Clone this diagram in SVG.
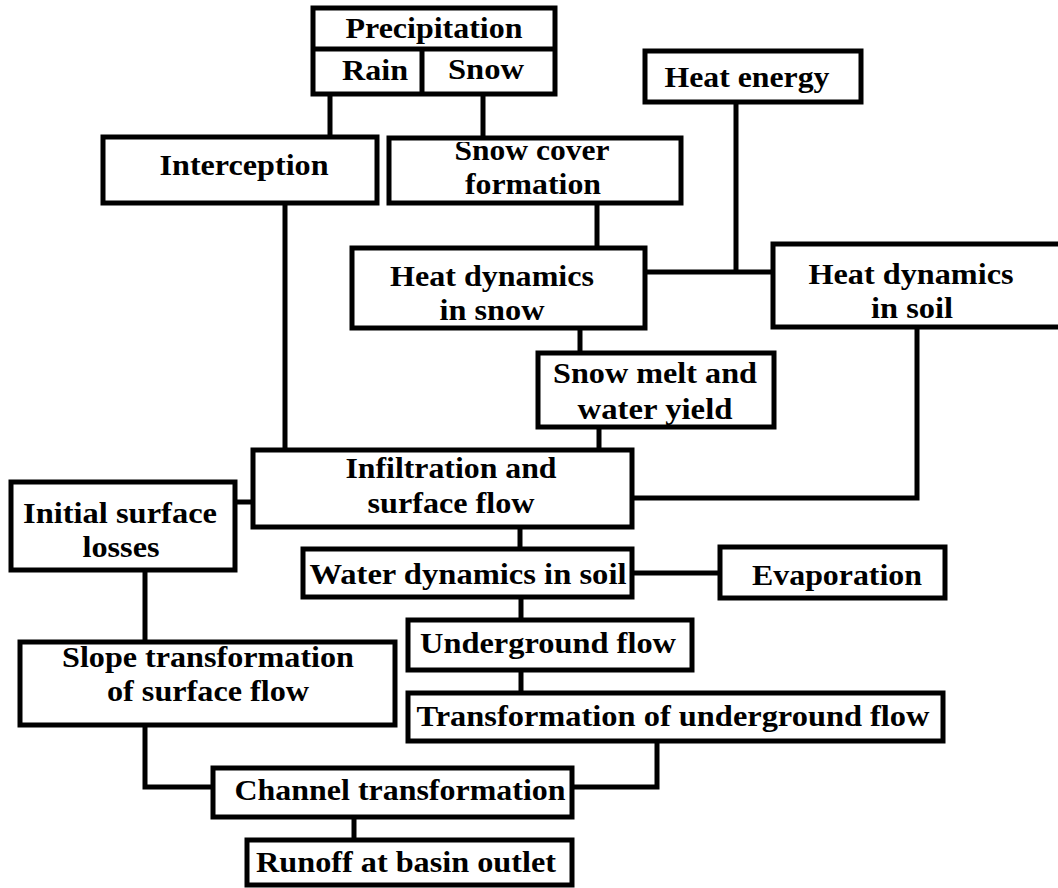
<svg xmlns="http://www.w3.org/2000/svg" width="1058" height="888" viewBox="0 0 1058 888">
<defs>
<clipPath id="scclip"><rect x="391" y="142" width="288" height="60"/></clipPath>
</defs>
<style>
.b{fill:#fff;stroke:#000;stroke-width:5}
.c{fill:none;stroke:#000;stroke-width:5}
text{font-family:"Liberation Serif","Times New Roman",serif;font-weight:bold;font-size:30px;fill:#000;text-anchor:middle}
</style>
<rect width="1058" height="888" fill="#fff"/>
<g id="connectors">
<path class="c" d="M330 94V137M483 94V137"/>
<path class="c" d="M285 203V450"/>
<path class="c" d="M597 203V248"/>
<path class="c" d="M736 102V272M645 272H773"/>
<path class="c" d="M580 328V353"/>
<path class="c" d="M599 427V450"/>
<path class="c" d="M917 327V498H632"/>
<path class="c" d="M235 502H253"/>
<path class="c" d="M520 527V549"/>
<path class="c" d="M632 573H720"/>
<path class="c" d="M521 597V620"/>
<path class="c" d="M521 670V693"/>
<path class="c" d="M657 741V787H572"/>
<path class="c" d="M145 570V642"/>
<path class="c" d="M145 725V787H213"/>
<path class="c" d="M354 817V840"/>
</g>
<g id="precipitation">
<rect class="b" x="313" y="8" width="242" height="86"/>
<path class="c" d="M313 49H555M422 49V94"/>
<text x="434" y="38" textLength="177" lengthAdjust="spacingAndGlyphs">Precipitation</text>
<text x="375" y="80" textLength="66" lengthAdjust="spacingAndGlyphs">Rain</text>
<text x="486" y="79" textLength="76" lengthAdjust="spacingAndGlyphs">Snow</text>
</g>
<g id="interception">
<rect class="b" x="103" y="137" width="274" height="66"/>
<text x="244" y="175" textLength="169" lengthAdjust="spacingAndGlyphs">Interception</text>
</g>
<g id="snowcover">
<rect class="b" x="389" y="138" width="292" height="65"/>
<g clip-path="url(#scclip)">
<text x="532" y="160" textLength="155" lengthAdjust="spacingAndGlyphs">Snow cover</text>
</g>
<text x="533" y="194" textLength="136" lengthAdjust="spacingAndGlyphs">formation</text>
</g>
<g id="heatenergy">
<rect class="b" x="645" y="51" width="216" height="51"/>
<text x="747" y="87" textLength="165" lengthAdjust="spacingAndGlyphs">Heat energy</text>
</g>
<g id="heatsnow">
<rect class="b" x="352" y="248" width="293" height="80"/>
<text x="492" y="286" textLength="204" lengthAdjust="spacingAndGlyphs">Heat dynamics</text>
<text x="492" y="320" textLength="105" lengthAdjust="spacingAndGlyphs">in snow</text>
</g>
<g id="heatsoil">
<rect class="b" x="773" y="244" width="290" height="83"/>
<text x="911" y="284" textLength="205" lengthAdjust="spacingAndGlyphs">Heat dynamics</text>
<text x="912" y="318" textLength="82" lengthAdjust="spacingAndGlyphs">in soil</text>
</g>
<g id="snowmelt">
<rect class="b" x="538" y="353" width="236" height="74"/>
<text x="655" y="383" textLength="204" lengthAdjust="spacingAndGlyphs">Snow melt and</text>
<text x="655" y="419" textLength="155" lengthAdjust="spacingAndGlyphs">water yield</text>
</g>
<g id="infiltration">
<rect class="b" x="253" y="450" width="379" height="77"/>
<text x="451" y="478" textLength="211" lengthAdjust="spacingAndGlyphs">Infiltration and</text>
<text x="451" y="513" textLength="167" lengthAdjust="spacingAndGlyphs">surface flow</text>
</g>
<g id="initial">
<rect class="b" x="11" y="482" width="224" height="88"/>
<text x="120" y="523" textLength="194" lengthAdjust="spacingAndGlyphs">Initial surface</text>
<text x="121" y="557" textLength="77" lengthAdjust="spacingAndGlyphs">losses</text>
</g>
<g id="waterdyn">
<rect class="b" x="303" y="549" width="329" height="48"/>
<text x="468" y="584" textLength="317" lengthAdjust="spacingAndGlyphs">Water dynamics in soil</text>
</g>
<g id="evaporation">
<rect class="b" x="720" y="547" width="225" height="51"/>
<text x="837" y="585" textLength="170" lengthAdjust="spacingAndGlyphs">Evaporation</text>
</g>
<g id="underground">
<rect class="b" x="408" y="620" width="284" height="50"/>
<text x="548" y="653" textLength="256" lengthAdjust="spacingAndGlyphs">Underground flow</text>
</g>
<g id="transunder">
<rect class="b" x="408" y="693" width="535" height="48"/>
<text x="673" y="726" textLength="513" lengthAdjust="spacingAndGlyphs">Transformation of underground flow</text>
</g>
<g id="slope">
<rect class="b" x="20" y="642" width="375" height="83"/>
<text x="208" y="667" textLength="292" lengthAdjust="spacingAndGlyphs">Slope transformation</text>
<text x="208" y="701" textLength="202" lengthAdjust="spacingAndGlyphs">of surface flow</text>
</g>
<g id="channel">
<rect class="b" x="213" y="768" width="359" height="49"/>
<text x="400" y="800" textLength="331" lengthAdjust="spacingAndGlyphs">Channel transformation</text>
</g>
<g id="runoff">
<rect class="b" x="247" y="840" width="325" height="45"/>
<text x="406" y="872" textLength="300" lengthAdjust="spacingAndGlyphs">Runoff at basin outlet</text>
</g>
</svg>
